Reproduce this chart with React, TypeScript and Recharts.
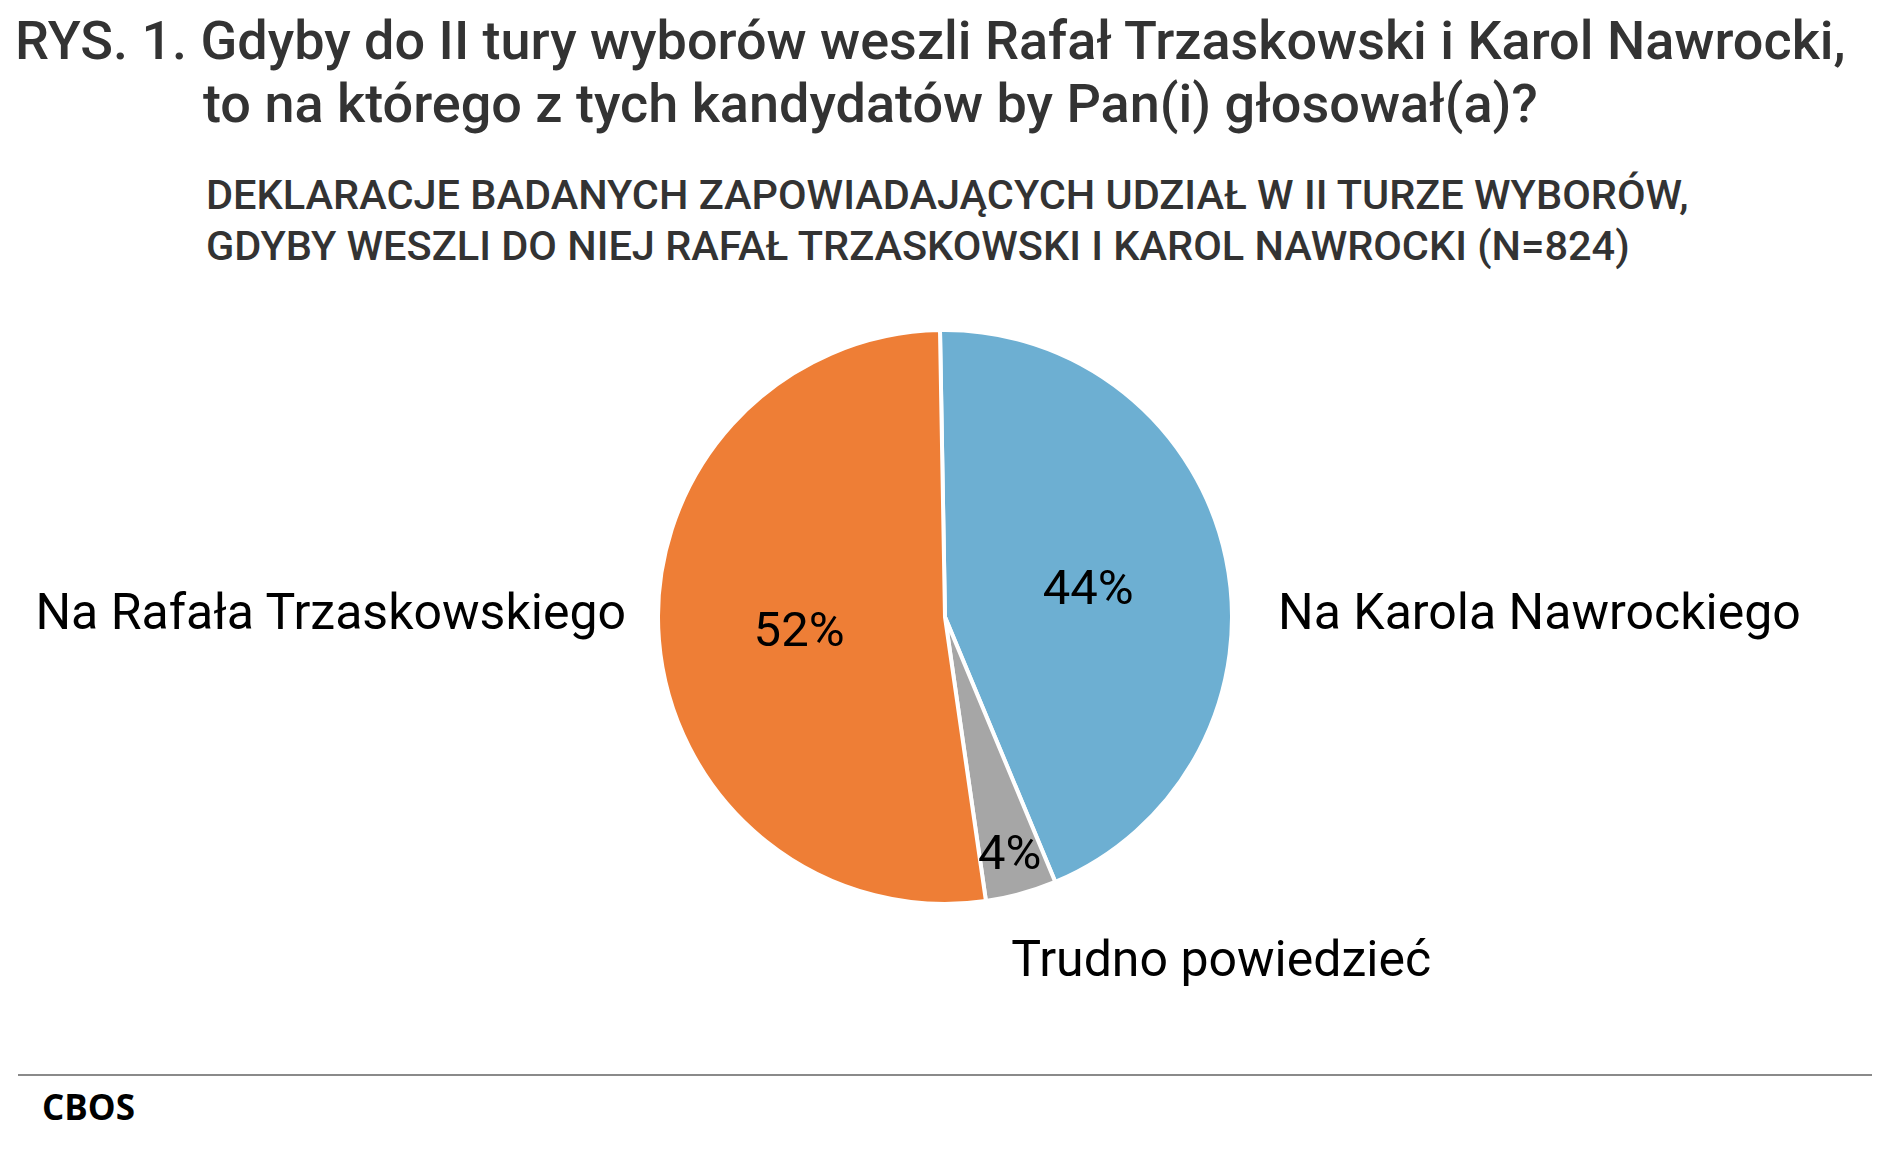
import { Cell, Pie, PieChart } from 'recharts'

const categories = ['Na Karola Nawrockiego', 'Trudno powiedzieć', 'Na Rafała Trzaskowskiego']
const shares = [44, 4, 52]
const sliceColors = ['#6DAFD2', '#A6A6A6', '#EE7E36']

const titleLines = [
  'RYS. 1. Gdyby do II tury wyborów weszli Rafał Trzaskowski i Karol Nawrocki,',
  'to na którego z tych kandydatów by Pan(i) głosował(a)?',
]
const subtitleLines = [
  'DEKLARACJE BADANYCH ZAPOWIADAJĄCYCH UDZIAŁ W II TURZE WYBORÓW,',
  'GDYBY WESZLI DO NIEJ RAFAŁ TRZASKOWSKI I KAROL NAWROCKI (N=824)',
]
const source = 'CBOS'

const data = categories.map((name, i) => ({ name, value: shares[i], fill: sliceColors[i] }))

const W = 1891
const H = 1149
const RAD = Math.PI / 180
const FONT = 'Roboto, "Noto Sans", sans-serif'

function renderLabels(props: any) {
  const { cx, cy, midAngle, outerRadius, percent, index, value, name } = props
  const c = Math.cos(-midAngle * RAD)
  const s = Math.sin(-midAngle * RAD)

  // value inside the slice, pushed outward for thin slices
  const rIn = outerRadius * (percent < 0.1 ? 0.85 : 0.51)
  const vx = cx + rIn * c
  const vy = cy + rIn * s + 17

  // category outside the pie
  let lx: number
  let ly: number
  let anchor: 'start' | 'end'
  if (Math.abs(c) >= 0.5) {
    const gap = c > 0 ? 46 : 32
    lx = cx + (c > 0 ? 1 : -1) * (outerRadius + gap)
    ly = cy + 12
    anchor = c > 0 ? 'start' : 'end'
  } else {
    const r = outerRadius + 60
    lx = cx + r * c - 26
    ly = cy + r * s + 24
    anchor = 'start'
  }

  return (
    <g key={`lbl-${index}`}>
      <text x={vx} y={vy} textAnchor="middle" fontFamily={FONT} fontSize={49} fill="#000">
        {`${value}%`}
      </text>
      <text x={lx} y={ly} textAnchor={anchor} fontFamily={FONT} fontSize={50} fill="#000">
        {name}
      </text>
    </g>
  )
}

export default function App() {
  return (
    <div style={{ position: 'absolute', left: 0, top: 0, width: W, height: H, background: '#fff' }}>
      <div style={{ position: 'absolute', left: 0, top: 0 }}>
        <PieChart width={W} height={H} margin={{ top: 0, right: 0, bottom: 0, left: 0 }}>
          <Pie
            data={data}
            dataKey="value"
            nameKey="name"
            cx={945}
            cy={617}
            outerRadius={287}
            startAngle={91}
            endAngle={-269}
            stroke="#fff"
            strokeWidth={4}
            label={renderLabels}
            labelLine={false}
            isAnimationActive={false}
          >
            {data.map((entry) => (
              <Cell key={entry.name} fill={entry.fill} stroke="#fff" strokeWidth={4} />
            ))}
          </Pie>
        </PieChart>
      </div>
      <svg
        width={W}
        height={H}
        style={{ position: 'absolute', left: 0, top: 0, pointerEvents: 'none' }}
      >
        <text x={15} y={59} fontFamily={FONT} fontWeight={500} fontSize={54} fill="#333">
          {titleLines[0]}
        </text>
        <text x={203} y={122} fontFamily={FONT} fontWeight={500} fontSize={54} fill="#333">
          {titleLines[1]}
        </text>
        <text x={206} y={209} fontFamily={FONT} fontWeight={500} fontSize={41.5} fill="#333">
          {subtitleLines[0]}
        </text>
        <text x={206} y={260} fontFamily={FONT} fontWeight={500} fontSize={41.5} fill="#333">
          {subtitleLines[1]}
        </text>
        <line x1={18} x2={1872} y1={1075} y2={1075} stroke="#8a8a8a" strokeWidth={2} />
        <text
          x={42}
          y={1120}
          fontFamily='"Open Sans", sans-serif'
          fontWeight={700}
          fontSize={35}
          fill="#000"
        >
          {source}
        </text>
      </svg>
    </div>
  )
}
